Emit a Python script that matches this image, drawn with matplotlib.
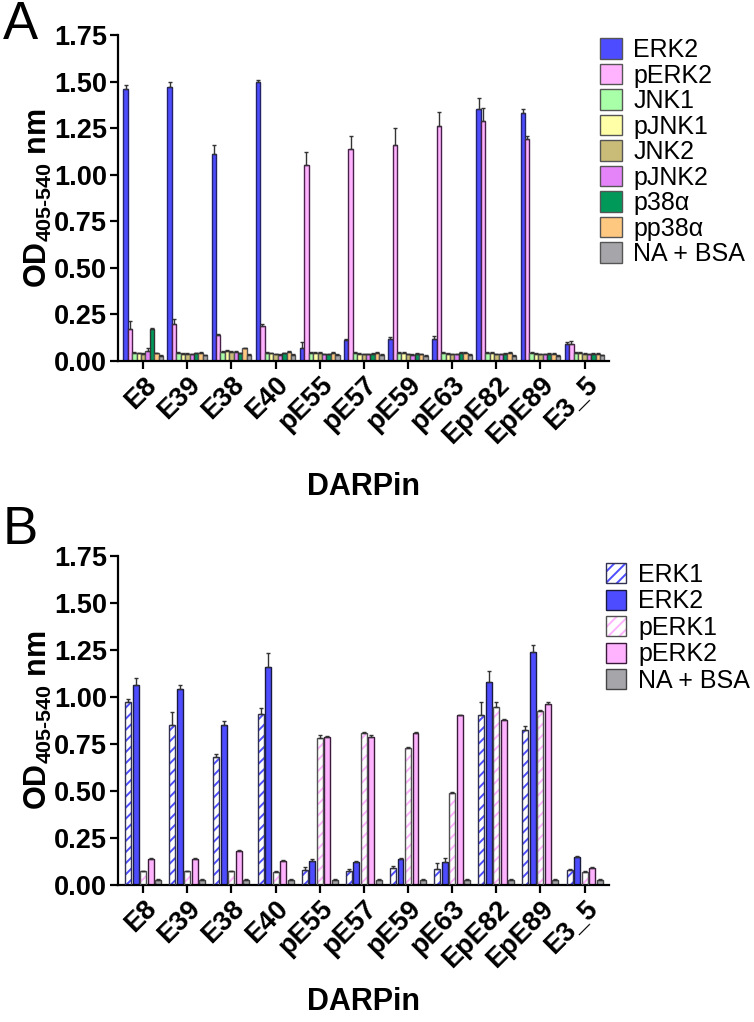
import numpy as np
import matplotlib
matplotlib.use('Agg')
import matplotlib.pyplot as plt
from matplotlib.patches import Patch
from matplotlib.legend_handler import HandlerTuple

plt.rcParams['font.family'] = ['Liberation Sans', 'DejaVu Sans']
plt.rcParams['mathtext.fontset'] = 'custom'
plt.rcParams['mathtext.rm'] = 'Liberation Sans:bold'
plt.rcParams['mathtext.bf'] = 'Liberation Sans:bold'
plt.rcParams['hatch.linewidth'] = 1.4

darpins = ['E8', 'E39', 'E38', 'E40', 'pE55', 'pE57', 'pE59', 'pE63', 'EpE82', 'EpE89', 'E3_5']

# panel A
erk2 = [1.46, 1.47, 1.11, 1.50, 0.07, 0.11, 0.12, 0.12, 1.35, 1.33, 0.09]
erk2_err = [0.02, 0.03, 0.05, 0.01, 0.03, 0.01, 0.006, 0.012, 0.06, 0.025, 0.01]
perk2 = [0.17, 0.20, 0.14, 0.19, 1.05, 1.14, 1.16, 1.26, 1.29, 1.19, 0.09]
perk2_err = [0.045, 0.025, 0.007, 0.006, 0.07, 0.065, 0.09, 0.075, 0.07, 0.02, 0.017]
jnk1 = [0.045, 0.045, 0.05, 0.045, 0.045, 0.043, 0.043, 0.043, 0.043, 0.043, 0.043]
pjnk1 = [0.041, 0.04, 0.054, 0.041, 0.043, 0.04, 0.043, 0.04, 0.043, 0.04, 0.043]
jnk2 = [0.039, 0.04, 0.047, 0.036, 0.043, 0.036, 0.036, 0.036, 0.036, 0.036, 0.04]
pjnk2 = [0.055, 0.036, 0.047, 0.034, 0.036, 0.036, 0.032, 0.036, 0.036, 0.036, 0.036]
p38a = [0.172, 0.041, 0.041, 0.041, 0.036, 0.039, 0.039, 0.043, 0.038, 0.039, 0.04]
pp38a = [0.041, 0.045, 0.068, 0.047, 0.045, 0.045, 0.036, 0.043, 0.043, 0.039, 0.04]
na_a = [0.029, 0.03, 0.034, 0.032, 0.034, 0.032, 0.029, 0.032, 0.029, 0.029, 0.03]
small_err = 0.004
pjnk2_err = [0.015, 0.004, 0.004, 0.004, 0.004, 0.004, 0.004, 0.004, 0.004, 0.004, 0.004]

# panel B
erk1 = [0.97, 0.85, 0.68, 0.91, 0.08, 0.075, 0.09, 0.085, 0.90, 0.82, 0.08]
erk1_err = [0.02, 0.07, 0.016, 0.03, 0.015, 0.01, 0.01, 0.03, 0.07, 0.024, 0.005]
erk2b = [1.06, 1.04, 0.85, 1.16, 0.124, 0.119, 0.138, 0.122, 1.08, 1.24, 0.145]
erk2b_err = [0.037, 0.02, 0.02, 0.073, 0.014, 0.005, 0.006, 0.018, 0.057, 0.035, 0.005]
perk1 = [0.07, 0.07, 0.07, 0.065, 0.78, 0.805, 0.727, 0.486, 0.947, 0.926, 0.065]
perk1_err = [0.005, 0.005, 0.005, 0.005, 0.016, 0.005, 0.005, 0.005, 0.025, 0.005, 0.005]
perk2b = [0.138, 0.137, 0.177, 0.124, 0.787, 0.784, 0.807, 0.90, 0.878, 0.963, 0.09]
perk2b_err = [0.005, 0.005, 0.005, 0.005, 0.005, 0.014, 0.005, 0.005, 0.005, 0.009, 0.005]
na_b = [0.025, 0.025, 0.025, 0.025, 0.025, 0.025, 0.025, 0.025, 0.025, 0.025, 0.025]

yticks = [0, 0.25, 0.5, 0.75, 1.0, 1.25, 1.5, 1.75]
x = np.arange(len(darpins))

fig = plt.figure(figsize=(7.54, 10.22), dpi=100)
axA = fig.add_axes([0.1565, 0.6468, 0.651, 0.319])
axB = fig.add_axes([0.1565, 0.1344, 0.651, 0.3219])


def style(ax, xlab_y):
    ax.set_xlim(-0.57, 10.55)
    ax.set_ylim(0, 1.75)
    ax.set_yticks(yticks)
    ax.set_yticklabels(['%.2f' % t for t in yticks])
    ax.set_xticks(x)
    ax.set_xticklabels(darpins, rotation=45, ha='right', rotation_mode='anchor')
    for s in ['top', 'right']:
        ax.spines[s].set_visible(False)
    for s in ['left', 'bottom']:
        ax.spines[s].set_linewidth(1.6)
    ax.tick_params(width=1.6, length=6, labelsize=19.5, pad=2)
    for lab in ax.get_xticklabels() + ax.get_yticklabels():
        lab.set_fontweight('bold')
    ax.set_xlabel('DARPin', fontsize=22, fontweight='bold', va='top')
    ax.xaxis.set_label_coords(0.5, xlab_y)
    ax.set_ylabel(r'OD$_{405\text{-}540}$ nm', fontsize=22, fontweight='bold')
    ax.yaxis.set_label_coords(-0.13, 0.5)


def bars(ax, xs, vals, errs, w, face, edge, hatch=None, hatchcol=None):
    if hatch:
        ax.bar(xs, vals, w, color='white', edgecolor=hatchcol, hatch=hatch, linewidth=0, zorder=2)
        ax.bar(xs, vals, w, fill=False, edgecolor=edge, linewidth=1, zorder=3)
    else:
        ax.bar(xs, vals, w, color=face, edgecolor=edge, linewidth=1, zorder=2)
    errs = np.broadcast_to(errs, len(vals))
    ax.errorbar(xs, vals, yerr=[np.zeros(len(vals)), errs], fmt='none',
                ecolor='#333333', elinewidth=1, capsize=1.5, capthick=1, zorder=4)


# panel A
seriesA = [
    ('ERK2', erk2, erk2_err, '#4d4dff', '#22226a'),
    ('pERK2', perk2, perk2_err, '#ffb3ff', '#4a1f4a'),
    ('JNK1', jnk1, small_err, '#a8ffa8', '#555555'),
    ('pJNK1', pjnk1, small_err, '#ffffa8', '#555555'),
    ('JNK2', jnk2, small_err, '#c8bc78', '#555555'),
    ('pJNK2', pjnk2, pjnk2_err, '#e484f8', '#555555'),
    ('p38\u03b1', p38a, small_err, '#00995a', '#333333'),
    ('pp38\u03b1', pp38a, small_err, '#ffc880', '#555555'),
    ('NA + BSA', na_a, small_err, '#a6a6aa', '#555555'),
]
wA = 0.1
handlesA = []
labelsA = []
for i, (name, vals, errs, face, edge) in enumerate(seriesA):
    bars(axA, x + (i - 4) * wA, vals, errs, wA, face, edge)
    handlesA.append(Patch(facecolor=face, edgecolor='#555555', linewidth=1))
    labelsA.append(name)
style(axA, -0.34)
fig.legend(handlesA, labelsA, loc='upper left', bbox_to_anchor=(600 / 754, 1 - 38 / 1022),
           frameon=False, fontsize=18, handlelength=0.88, handleheight=0.88,
           handletextpad=0.45, labelspacing=0.06, borderpad=0, borderaxespad=0)

# panel B
pB = 0.17
wB = 0.135
bars(axB, x - 2 * pB, erk1, erk1_err, wB, 'white', '#303050', hatch='///', hatchcol='#4d4dff')
bars(axB, x - 1 * pB, erk2b, erk2b_err, wB, '#4d4dff', '#1a1a40')
bars(axB, x, perk1, perk1_err, wB, 'white', '#505050', hatch='///', hatchcol='#ffb3ff')
bars(axB, x + 1 * pB, perk2b, perk2b_err, wB, '#ffb3ff', '#3a1a3a')
bars(axB, x + 2 * pB, na_b, 0.003, wB, '#a6a6aa', '#444444')
style(axB, -0.31)

handlesB = [
    (Patch(facecolor='white', edgecolor='#4d4dff', hatch='///', linewidth=0),
     Patch(fill=False, edgecolor='#303050', linewidth=1)),
    Patch(facecolor='#4d4dff', edgecolor='#1a1a40', linewidth=1),
    (Patch(facecolor='white', edgecolor='#ffb3ff', hatch='///', linewidth=0),
     Patch(fill=False, edgecolor='#505050', linewidth=1)),
    Patch(facecolor='#ffb3ff', edgecolor='#3a1a3a', linewidth=1),
    Patch(facecolor='#a6a6aa', edgecolor='#444444', linewidth=1),
]
fig.legend(handlesB, ['ERK1', 'ERK2', 'pERK1', 'pERK2', 'NA + BSA'],
           handler_map={tuple: HandlerTuple(ndivide=1, pad=0)},
           loc='upper left', bbox_to_anchor=(606 / 754, 1 - 563 / 1022),
           frameon=False, fontsize=18, handlelength=0.8, handleheight=0.85,
           handletextpad=0.5, labelspacing=0.1, borderpad=0, borderaxespad=0)

fig.text(3 / 754, 1 - 0 / 1022, 'A', fontsize=38, va='top', ha='left')
fig.text(3 / 754, 1 - 505 / 1022, 'B', fontsize=38, va='top', ha='left')

fig.savefig('out.png', dpi=100)
